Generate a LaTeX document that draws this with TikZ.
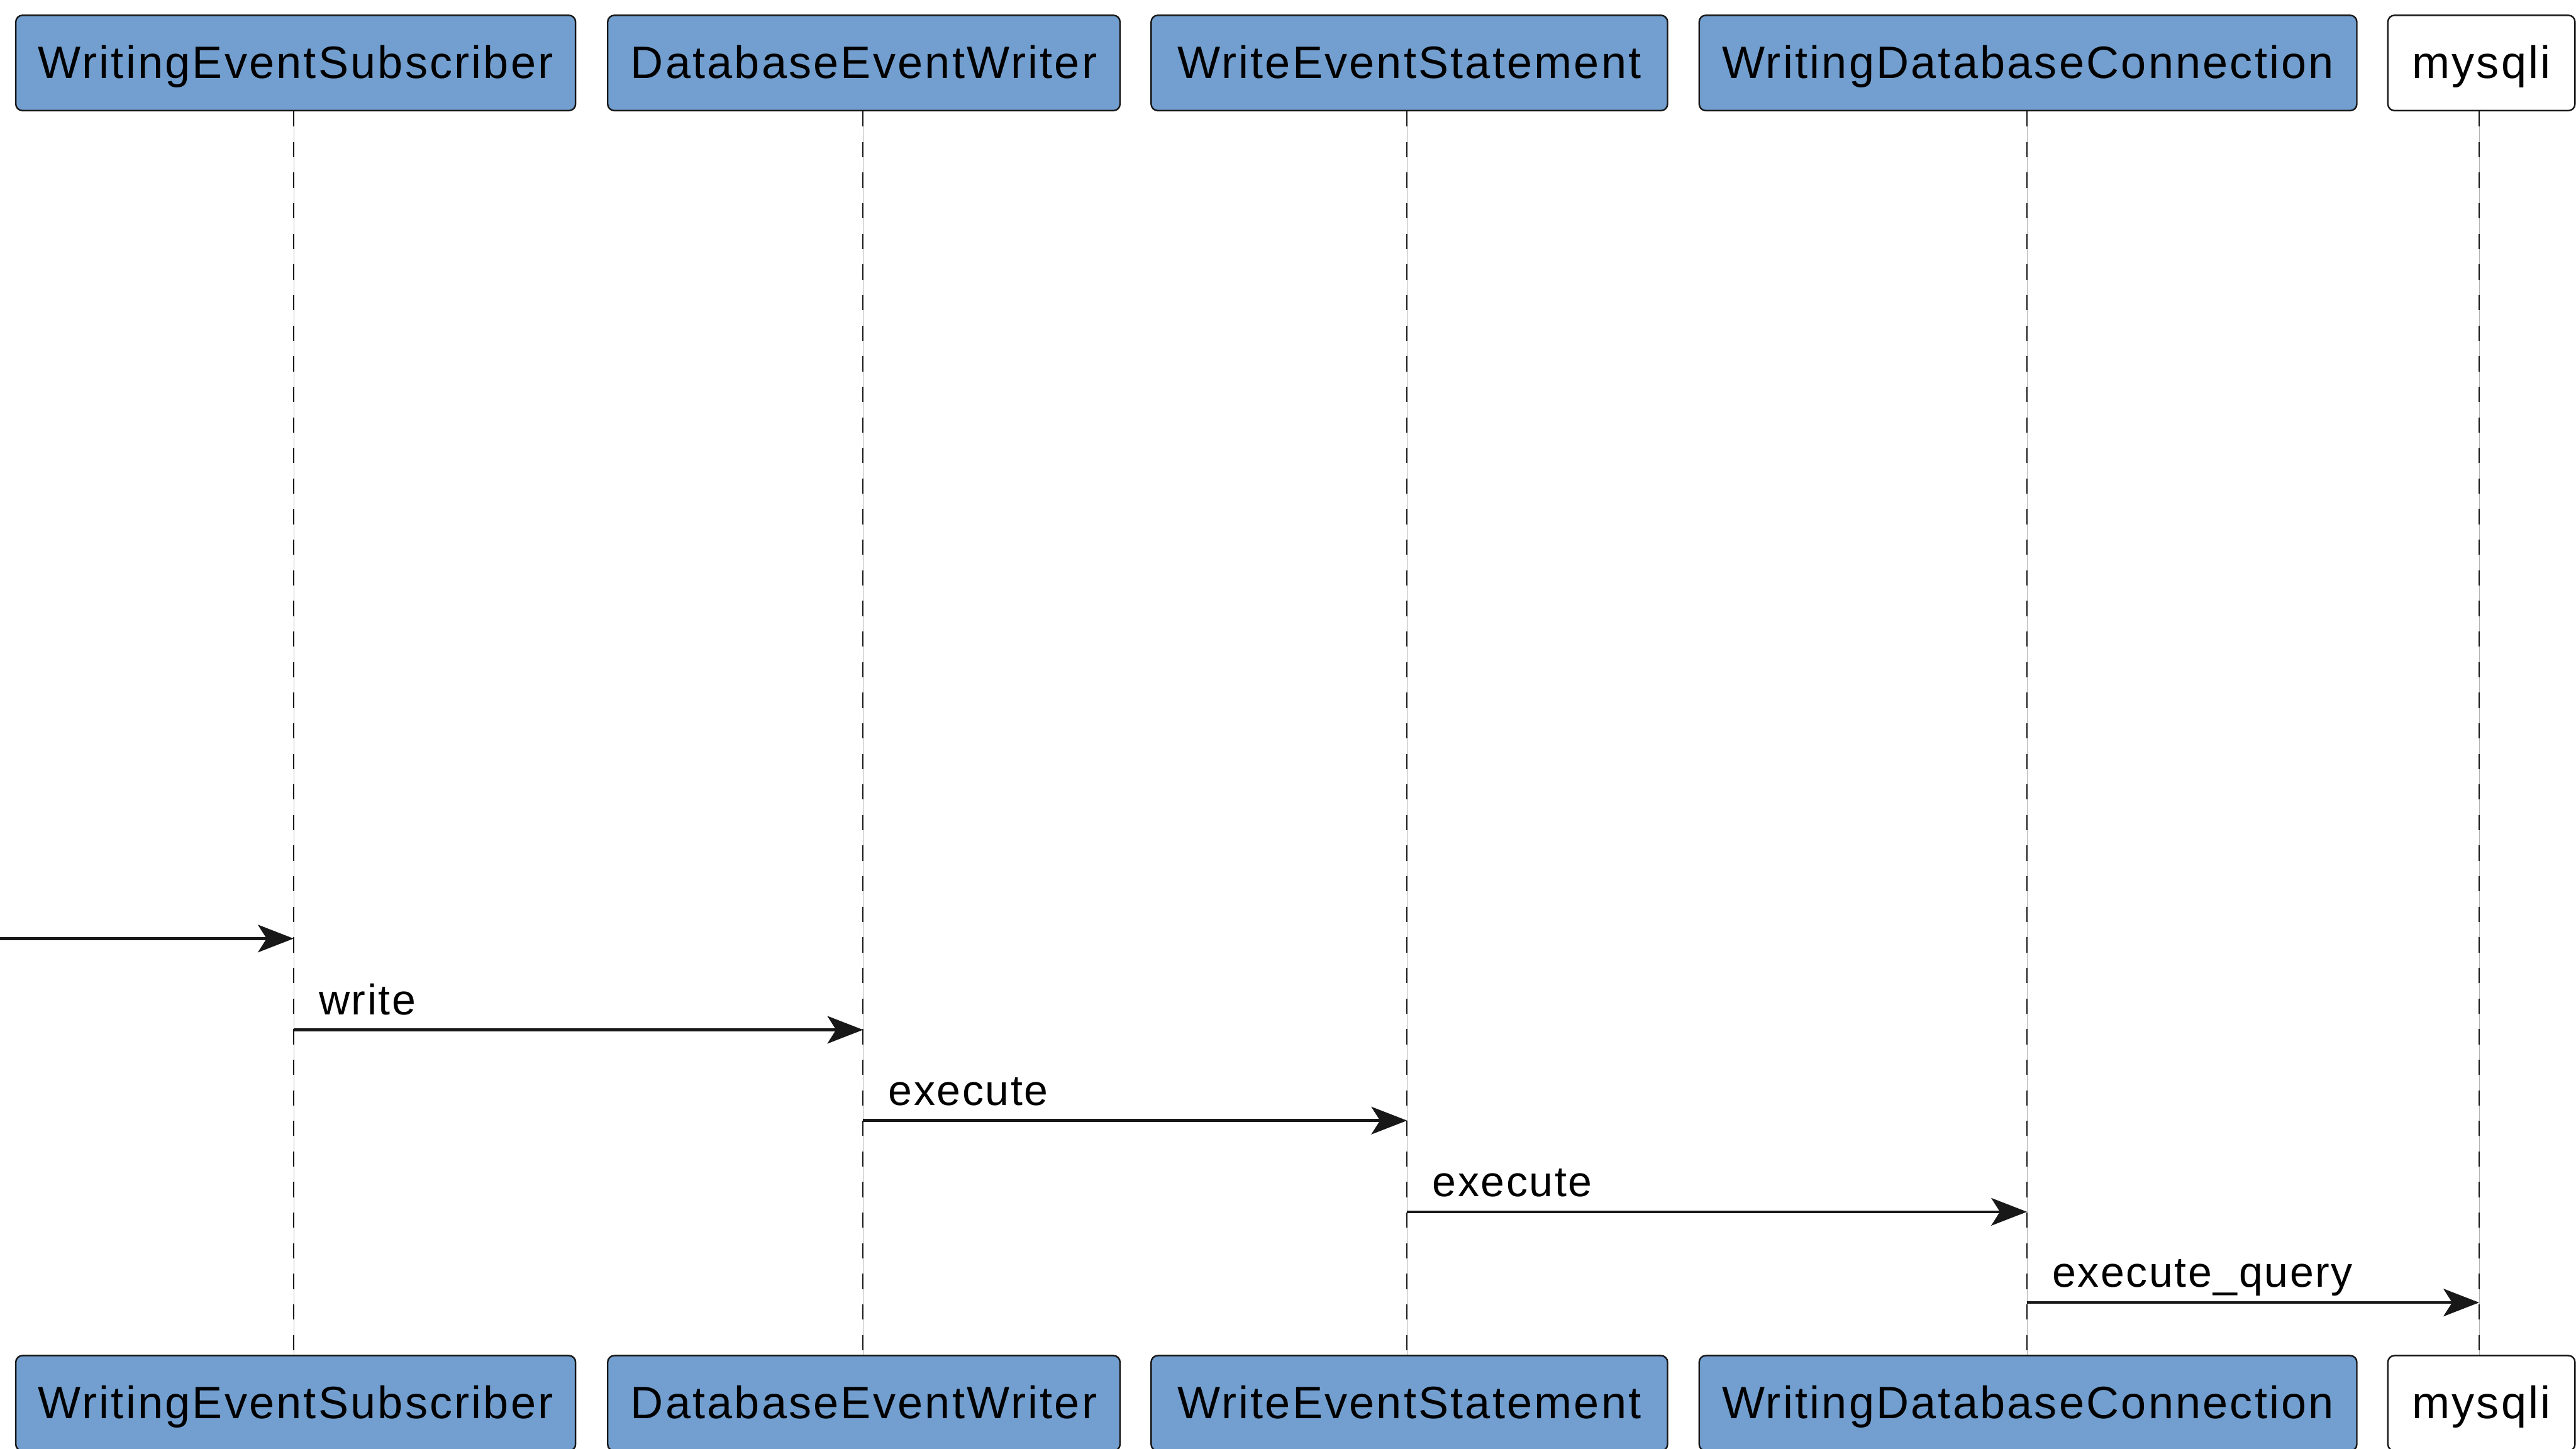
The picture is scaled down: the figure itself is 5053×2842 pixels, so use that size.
\documentclass[tikz,border=0pt]{standalone}
\usepackage{fontspec}
\setmainfont{Liberation Sans}[LetterSpace=3.8]
\newfontfamily\partfont{Liberation Sans}[LetterSpace=4.4]
\usetikzlibrary{arrows.meta}
\definecolor{partblue}{RGB}{114,159,207}
\definecolor{ink}{RGB}{24,24,24}
\tikzset{
  part/.style={draw=ink, line width=0.75pt, rounded corners=3.25pt, fill=partblue,
    minimum height=46.75pt, text height=15.25pt, text depth=0pt, inner sep=0pt,
    font=\partfont\fontsize{22.25}{26}\selectfont},
  plain/.style={part, fill=white},
  boxw/.style={minimum width=#1*0.25pt},
  lifeline/.style={draw=ink, line width=0.6pt, dash pattern=on 7.5pt off 7.5pt},
  lifebase/.style={draw=gray!60, line width=0.25pt},
  msg/.style={draw=ink, line width=1.4pt, -{Stealth[length=17.5pt,width=13.5pt,inset=4.25pt]}},
  msglabel/.style={anchor=base west, inner sep=0pt, font=\fontsize{21}{25}\selectfont},
}
\begin{document}
\begin{tikzpicture}[x=0.25pt, y=-0.25pt]
\useasboundingbox (0,0) rectangle (5053,2842);

% participants, head row
\node[part,  boxw=1098] (subT)  at (580,123.5)    {WritingEventSubscriber};
\node[part,  boxw=1005] (dbwT)  at (1694.5,123.5) {DatabaseEventWriter};
\node[part,  boxw=1013] (stmtT) at (2764.5,123.5) {WriteEventStatement};
\node[part,  boxw=1290] (connT) at (3978,123.5)   {WritingDatabaseConnection};
\node[plain, boxw=367]  (sqlT)  at (4867.5,123.5) {mysqli};

% participants, foot row
\node[part,  boxw=1098] (subB)  at (580,2752.5)    {WritingEventSubscriber};
\node[part,  boxw=1005] (dbwB)  at (1694.5,2752.5) {DatabaseEventWriter};
\node[part,  boxw=1013] (stmtB) at (2764.5,2752.5) {WriteEventStatement};
\node[part,  boxw=1290] (connB) at (3978,2752.5)   {WritingDatabaseConnection};
\node[plain, boxw=367]  (sqlB)  at (4867.5,2752.5) {mysqli};

% lifeline positions
\coordinate (subL)  at (576,0);
\coordinate (dbwL)  at (1693,0);
\coordinate (stmtL) at (2760,0);
\coordinate (connL) at (3976,0);
\coordinate (sqlL)  at (4863,0);

% lifelines
\foreach \p in {sub,dbw,stmt,conn,sql}{
  \draw[lifebase] (\p T.south -| \p L) -- (\p B.north -| \p L);
  \draw[lifeline] (\p T.south -| \p L) -- (\p B.north -| \p L);
}

% messages
\coordinate (m0) at (0,1841);
\coordinate (m1) at (0,2020);
\coordinate (m2) at (0,2198);
\coordinate (m3) at (0,2377);
\coordinate (m4) at (0,2555);

\draw[msg] (m0) -- (subL |- m0);
\draw[msg] (subL |- m1) -- (dbwL |- m1);
\draw[msg] (dbwL |- m2) -- (stmtL |- m2);
\draw[msg] (stmtL |- m3) -- (connL |- m3);
\draw[msg] (connL |- m4) -- (sqlL |- m4);

\node[msglabel] (l1) at ([shift={(49,-30)}]subL |- m1)  {write};
\node[msglabel] (l2) at ([shift={(49,-30)}]dbwL |- m2)  {execute};
\node[msglabel] (l3) at ([shift={(49,-30)}]stmtL |- m3) {execute};
\node[msglabel] (l4) at ([shift={(49,-30)}]connL |- m4) {execute\_query};
\end{tikzpicture}
\end{document}
